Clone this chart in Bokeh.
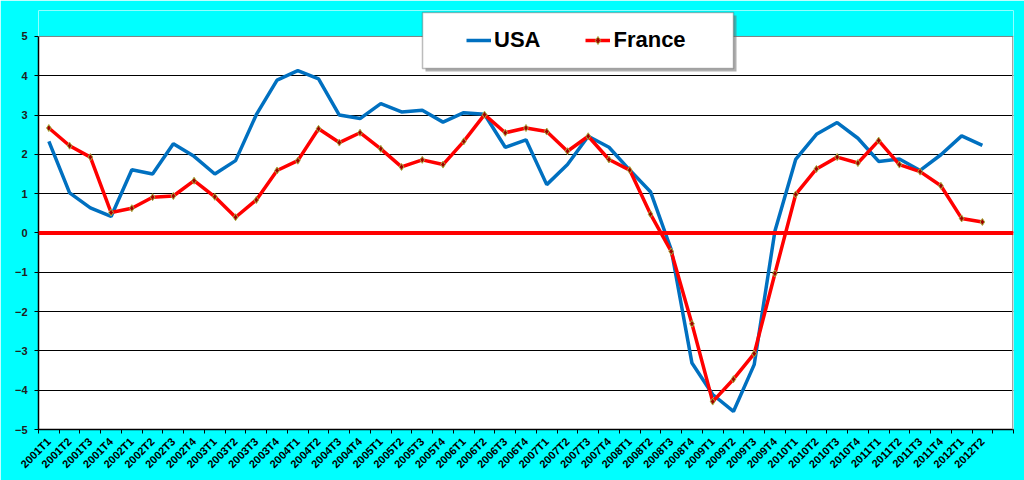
from bokeh.plotting import figure
from bokeh.models import Range1d, FixedTicker, Span, Legend, LegendItem, BoxAnnotation
from bokeh.embed import file_html
from bokeh.resources import INLINE

quarters = [f"{y}T{q}" for y in range(2001, 2013) for q in range(1, 5)][:46]
n_slots = 47  # one empty slot after 2012T2

usa = [2.33, 1.02, 0.64, 0.42, 1.61, 1.50, 2.27, 1.95, 1.50, 1.84, 3.01, 3.89,
       4.13, 3.92, 3.00, 2.91, 3.29, 3.08, 3.12, 2.82, 3.06, 3.02, 2.18, 2.37,
       1.23, 1.74, 2.46, 2.18, 1.60, 1.05, -0.42, -3.31, -4.11, -4.54, -3.35, 0.05,
       1.87, 2.51, 2.81, 2.41, 1.82, 1.88, 1.59, 1.99, 2.47, 2.23]
france = [2.67, 2.22, 1.93, 0.52, 0.63, 0.91, 0.94, 1.33, 0.92, 0.40, 0.84, 1.59,
          1.84, 2.65, 2.30, 2.55, 2.14, 1.68, 1.86, 1.74, 2.33, 3.01, 2.55, 2.67,
          2.58, 2.08, 2.46, 1.87, 1.60, 0.48, -0.47, -2.31, -4.29, -3.72, -3.07, -1.03,
          0.98, 1.63, 1.93, 1.78, 2.35, 1.74, 1.56, 1.20, 0.37, 0.28]
y_ticks = [-5, -4, -3, -2, -1, 0, 1, 2, 3, 4, 5]
y_min, y_max = -5, 5
y_headroom = 5.66  # frame extends above 5 so that the legend is not clipped

xs = [i + 0.5 for i in range(len(quarters))]
FONT = "Liberation Sans"
CYAN = "#00FFFF"

p = figure(width=1024, height=480, output_backend="svg", toolbar_location=None,
           x_range=Range1d(0, n_slots), y_range=Range1d(y_min, y_headroom),
           min_border_left=38, min_border_right=11, min_border_top=10, min_border_bottom=51)
p.border_fill_color = CYAN
p.background_fill_color = "white"
p.outline_line_color = None

# x axis: labels at category centres, tick marks between categories
p.xaxis.ticker = FixedTicker(ticks=xs, minor_ticks=list(range(n_slots + 1)))
p.xaxis.major_label_overrides = {x: q for x, q in zip(xs, quarters)}
p.xaxis.major_tick_line_color = None
p.xaxis.minor_tick_line_color = "black"
p.xaxis.minor_tick_line_width = 1
p.xaxis.minor_tick_out = 4
p.xaxis.minor_tick_in = 0
p.xaxis.major_label_orientation = 0.785398
p.xaxis.major_label_text_font = FONT
p.xaxis.major_label_text_font_style = "bold"
p.xaxis.major_label_text_font_size = "11px"
p.xaxis.major_label_text_color = "black"
p.xaxis.major_label_standoff = 4
p.xaxis.axis_line_color = "black"
p.xaxis.axis_line_width = 1.5
p.xgrid.grid_line_color = None

p.yaxis.ticker = FixedTicker(ticks=y_ticks)
p.yaxis.bounds = (y_min, y_max)
p.yaxis.major_tick_out = 4
p.yaxis.major_tick_in = 0
p.yaxis.major_tick_line_color = "black"
p.yaxis.minor_tick_line_color = None
p.yaxis.major_label_text_font = FONT
p.yaxis.major_label_text_font_style = "bold"
p.yaxis.major_label_text_font_size = "11px"
p.yaxis.major_label_text_color = "#202020"
p.yaxis.major_label_standoff = 7
p.yaxis.axis_line_color = "black"
p.yaxis.axis_line_width = 1.5
p.ygrid.grid_line_color = "black"
p.ygrid.grid_line_width = 1
p.ygrid.ticker = FixedTicker(ticks=y_ticks[:-1])

# cyan band above the plot area, drawn first so everything else sits on it
p.add_layout(BoxAnnotation(bottom=y_max, fill_color=CYAN, fill_alpha=1, line_color=None,
                           level="underlay"))

# grey right and top edges of the plot area
p.add_layout(BoxAnnotation(left=n_slots - 0.07, right=n_slots, bottom=y_min, top=y_max,
                           fill_color="#A0A0A0", fill_alpha=1, line_color=None))
p.add_layout(Span(location=y_max, dimension="width", line_color="#808080", line_width=1))

p.add_layout(Span(location=0, dimension="width", line_color="#FF0000", line_width=4))

r_usa = p.line(xs, usa, line_color="#0070C0", line_width=3.5)
r_fr = p.line(xs, france, line_color="#FF0000", line_width=3.5)
r_frm = p.scatter(xs, france, marker="diamond", size=7, fill_color="#A00000",
                  line_color="#A8B040", line_width=1)

# legend frame with shadow
shadow = BoxAnnotation(left=425, right=736, top=15, bottom=71,
                       left_units="canvas", right_units="canvas",
                       top_units="canvas", bottom_units="canvas",
                       fill_color="#707070", fill_alpha=0.55, line_color=None)
box = BoxAnnotation(left=422, right=733, top=12, bottom=68,
                    left_units="canvas", right_units="canvas",
                    top_units="canvas", bottom_units="canvas",
                    fill_color="white", fill_alpha=1, line_color="#202020", line_width=1.5)
p.add_layout(shadow)
p.add_layout(box)

legend = Legend(items=[LegendItem(label="USA", renderers=[r_usa]),
                       LegendItem(label="France", renderers=[r_fr, r_frm])],
                orientation="horizontal", location=(428, 376),
                padding=0, margin=0, spacing=45, glyph_width=25, glyph_height=20,
                label_standoff=3, border_line_color=None, background_fill_alpha=0,
                label_text_font=FONT, label_text_font_style="bold",
                label_text_font_size="22px", label_text_color="black")
p.add_layout(legend)

open("out.html", "w").write(file_html(p, INLINE))
